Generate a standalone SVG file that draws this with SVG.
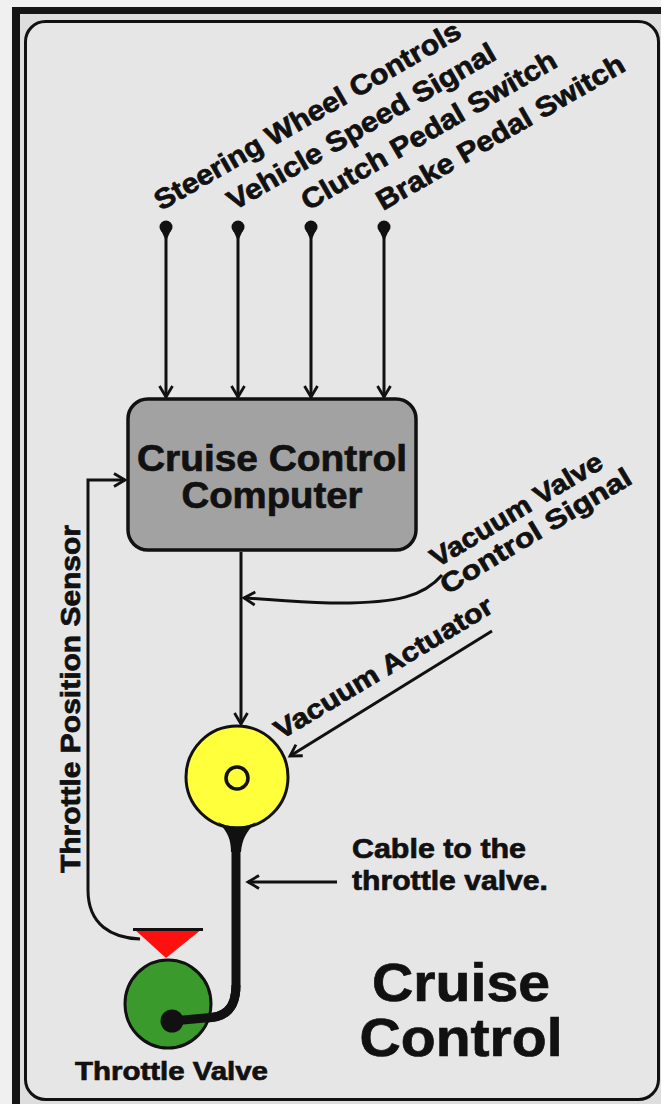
<svg xmlns="http://www.w3.org/2000/svg" width="661" height="1104" viewBox="0 0 661 1104">
<defs>
<marker id="ah" markerUnits="userSpaceOnUse" markerWidth="20" markerHeight="20" viewBox="-13 -10 15 20" refX="0" refY="0" orient="auto">
<path d="M-11,-6.5 L0,0 L-11,6.5" fill="none" stroke="#111" stroke-width="2.8"/>
</marker>
<style>
.lbl{font-family:"Liberation Sans",Arial,sans-serif;font-weight:bold;fill:#111;stroke:#111;stroke-width:0.7;}
.ln{fill:none;stroke:#111;stroke-width:3;}
.dot{fill:#111;}
</style>
</defs>
<rect x="0" y="0" width="661" height="1104" fill="#f0f0f0"/>
<rect x="12" y="7" width="670" height="1110" fill="#151515"/>
<rect x="20" y="14" width="660" height="1100" fill="#dedede"/>
<rect x="25.5" y="21.5" width="633" height="1078" rx="20" fill="#e6e6e6" stroke="#111" stroke-width="3"/>

<g id="connectors">
  <path class="ln" d="M166,228 L166,397" marker-end="url(#ah)"/>
  <path class="ln" d="M238,228 L238,397" marker-end="url(#ah)"/>
  <path class="ln" d="M311,228 L311,397" marker-end="url(#ah)"/>
  <path class="ln" d="M384,228 L384,397" marker-end="url(#ah)"/>
  <path class="ln" d="M140,939 C112,938 88,925 88,890 L88,480 L125,480" marker-end="url(#ah)"/>
  <path class="ln" d="M241,552 L241,724" marker-end="url(#ah)"/>
  <path class="ln" d="M442,575 C425,595 400,604 330,603 C290,602 265,599 244,598" marker-end="url(#ah)"/>
  <path class="ln" d="M492,631 L290,756" marker-end="url(#ah)"/>
  <path class="ln" d="M337,882 L248,882" marker-end="url(#ah)"/>
  <path d="M236,848 L236,985 C236,1010 224,1018 205,1018 L172,1021" fill="none" stroke="#111" stroke-width="9"/>
</g>

<g id="input-dots">
  <circle class="dot" cx="166" cy="227" r="6.5"/><path class="dot" d="M160.5,229 L166,241 L171.5,229 Z"/>
  <circle class="dot" cx="238" cy="227" r="6.5"/><path class="dot" d="M232.5,229 L238,241 L243.5,229 Z"/>
  <circle class="dot" cx="311" cy="227" r="6.5"/><path class="dot" d="M305.5,229 L311,241 L316.5,229 Z"/>
  <circle class="dot" cx="384" cy="227" r="6.5"/><path class="dot" d="M378.5,229 L384,241 L389.5,229 Z"/>
</g>

<g id="input-labels">
  <text class="lbl" font-size="28" transform="translate(161,211) rotate(-30)" textLength="349" lengthAdjust="spacingAndGlyphs">Steering Wheel Controls</text>
  <text class="lbl" font-size="28" transform="translate(234,211) rotate(-30)" textLength="305" lengthAdjust="spacingAndGlyphs">Vehicle Speed Signal</text>
  <text class="lbl" font-size="28" transform="translate(308,211) rotate(-30)" textLength="290" lengthAdjust="spacingAndGlyphs">Clutch Pedal Switch</text>
  <text class="lbl" font-size="28" transform="translate(383,211) rotate(-30)" textLength="282" lengthAdjust="spacingAndGlyphs">Brake Pedal Switch</text>
</g>

<g id="computer">
  <rect x="128" y="399" width="288" height="151" rx="20" fill="#a2a2a2" stroke="#111" stroke-width="3.5"/>
  <text class="lbl" font-size="37" x="272" y="471" text-anchor="middle" textLength="270" lengthAdjust="spacingAndGlyphs">Cruise Control</text>
  <text class="lbl" font-size="37" x="272" y="508" text-anchor="middle" textLength="181" lengthAdjust="spacingAndGlyphs">Computer</text>
</g>

<g id="vacuum-signal-label">
  <text class="lbl" font-size="27" transform="translate(437,568) rotate(-31)" textLength="196" lengthAdjust="spacingAndGlyphs">Vacuum Valve</text>
  <text class="lbl" font-size="27" transform="translate(447,595) rotate(-31)" textLength="218" lengthAdjust="spacingAndGlyphs">Control Signal</text>
</g>

<g id="vacuum-actuator">
  <circle cx="237" cy="777" r="51" fill="#ffff3c" stroke="#111" stroke-width="3"/>
  <circle cx="237" cy="778" r="11" fill="#ffff3c" stroke="#111" stroke-width="3.5"/>
  <path d="M218,822 C228,828 246,828 256,822 C246,832 242,840 241,852 L231,852 C231,840 228,832 218,822 Z" fill="#111"/>
  <text class="lbl" font-size="27" transform="translate(281,740) rotate(-31)" textLength="250" lengthAdjust="spacingAndGlyphs">Vacuum Actuator</text>
</g>

<g id="cable-label">
  <text class="lbl" font-size="27" x="352" y="858" textLength="174" lengthAdjust="spacingAndGlyphs">Cable to the</text>
  <text class="lbl" font-size="27" x="352" y="890" textLength="196" lengthAdjust="spacingAndGlyphs">throttle valve.</text>
</g>

<g id="throttle-position-sensor">
  <polygon points="134,929 202,929 166,958" fill="#ff1010"/>
  <line x1="133" y1="929.5" x2="203" y2="929.5" stroke="#111" stroke-width="3"/>
  <text class="lbl" font-size="27" transform="translate(80,873) rotate(-90)" textLength="348" lengthAdjust="spacingAndGlyphs">Throttle Position Sensor</text>
</g>

<g id="throttle-valve">
  <ellipse cx="168" cy="1004" rx="43" ry="44" fill="#3a9a2c" stroke="#111" stroke-width="3"/>
  <circle cx="172" cy="1021" r="11.5" fill="#111"/>
  <path d="M236,985 C236,1010 224,1018 205,1018 L172,1021" fill="none" stroke="#111" stroke-width="9"/>
  <text class="lbl" font-size="25" x="75" y="1080" textLength="193" lengthAdjust="spacingAndGlyphs">Throttle Valve</text>
</g>

<g id="title">
  <text class="lbl" font-size="54" x="461" y="1001" text-anchor="middle" textLength="178" lengthAdjust="spacingAndGlyphs">Cruise</text>
  <text class="lbl" font-size="54" x="461" y="1056" text-anchor="middle" textLength="203" lengthAdjust="spacingAndGlyphs">Control</text>
</g>
</svg>
